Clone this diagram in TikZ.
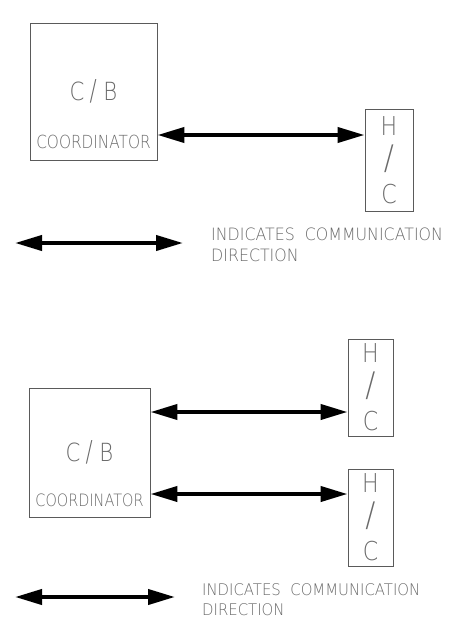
\documentclass[tikz,border=0pt]{standalone}
\usepackage{fontspec}
\newfontfamily\cadfont{DejaVu Sans ExtraLight}
\usetikzlibrary{arrows.meta,positioning,calc}
\definecolor{boxgray}{HTML}{5A5A5A}
\definecolor{txtgray}{HTML}{6A6A6A}
\newcommand{\cad}[1]{\scalebox{0.85}[1]{#1}}
\newcommand{\cadleg}[1]{\scalebox{0.93}[1]{#1}}

\begin{document}
\begin{tikzpicture}[x=1pt,y=-1pt,
  cbbox/.style={draw=boxgray,line width=0.9pt,inner sep=0pt,text=txtgray,
    font=\cadfont\fontsize{25}{25}\selectfont},
  hcbox/.style={draw=boxgray,line width=0.9pt,inner sep=0pt,text=txtgray,align=center,
    font=\cadfont\fontsize{26}{34}\selectfont},
  coordtxt/.style={inner sep=0pt,text=txtgray,font=\cadfont\fontsize{18}{18}\selectfont},
  legtxt/.style={inner sep=0pt,text=txtgray,align=left,anchor=north west},
  comm/.style={line width=4pt,{Triangle[length=27pt,width=15pt]}-{Triangle[length=27pt,width=15pt]}}]
  \useasboundingbox (0,0) rectangle (451,626);
  % top: one H/C
  \node[cbbox,minimum width=127pt,minimum height=137pt] (cb1) at (93.5,91.5) {\cad{C\kern6pt\scalebox{1}[1.15]{/}\kern8pt B}};
  \node[coordtxt] (cb1t) at ([yshift=19pt]cb1.south) {\cad{COORDINATOR}};
  \node[hcbox,minimum width=48pt,minimum height=102pt] (hc1) at (389,160) {\cad{H}\\\scalebox{1.15}[1.3]{/}\\\cad{C}};
  \draw[comm] (cb1.east |- 0,135) -- (hc1.west |- 0,135);
  \coordinate (leg1a) at (15,243);
  \coordinate (leg1b) at (183,243);
  \draw[comm] (leg1a) -- (leg1b);
  \node[legtxt,font=\cadfont\fontsize{17}{21}\selectfont] (leg1t) at (211,228)
    {\cadleg{INDICATES\ \ COMMUNICATION}\\\cadleg{DIRECTION}};
  % bottom: two H/C
  \node[cbbox,minimum width=121pt,minimum height=129pt] (cb2) at (89.5,452.5) {\cad{C\kern6pt\scalebox{1}[1.15]{/}\kern8pt B}};
  \node[coordtxt,font=\cadfont\fontsize{17}{17}\selectfont] (cb2t) at ([yshift=17pt]cb2.south) {\cad{COORDINATOR}};
  \node[hcbox,minimum width=45pt,minimum height=97pt] (hc2) at (370.5,387.5) {\cad{H}\\\scalebox{1.15}[1.3]{/}\\\cad{C}};
  \node[hcbox,minimum width=45pt,minimum height=97pt] (hc3) at (370.5,517.5) {\cad{H}\\\scalebox{1.15}[1.3]{/}\\\cad{C}};
  \draw[comm] (cb2.east |- 0,412) -- (hc2.west |- 0,412);
  \draw[comm] (cb2.east |- 0,494) -- (hc3.west |- 0,494);
  \coordinate (leg2a) at (15,597);
  \coordinate (leg2b) at (175,597);
  \draw[comm] (leg2a) -- (leg2b);
  \node[legtxt,font=\cadfont\fontsize{16}{20}\selectfont] (leg2t) at (202,583)
    {\cadleg{INDICATES\ \ COMMUNICATION}\\\cadleg{DIRECTION}};
\end{tikzpicture}
\end{document}
